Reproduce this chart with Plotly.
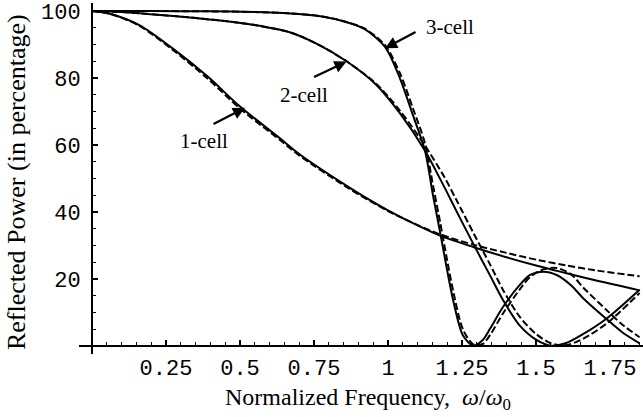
import plotly.graph_objects as go

# ---- data ----
x1 = [0, 0.06, 0.16, 0.27, 0.39, 0.5, 0.635, 0.7, 0.87, 1.0, 1.1, 1.18, 1.29, 1.4, 1.51, 1.6, 1.7, 1.85]
r1_solid = [100, 99.2, 95.8, 89, 80.5, 71.5, 62, 57.3, 47.3, 40.5, 36, 32.8, 29.5, 26.5, 23.8, 21.8, 19.6, 16.6]
r1_dash = [100, 99.2, 95.6, 88.6, 79.9, 70.9, 61.5, 56.9, 46.9, 40.3, 36.1, 33.2, 30.2, 27.8, 25.6, 24.1, 22.6, 20.8]

x2 = [0, 0.1, 0.22, 0.33, 0.45, 0.55, 0.67, 0.76, 0.86, 0.96, 1.04, 1.125, 1.19, 1.23, 1.29,
      1.345, 1.39, 1.446, 1.5, 1.55, 1.6, 1.66, 1.74, 1.85]
r2_solid = [100, 99.7, 98.9, 98.1, 97, 95.8, 93.6, 90.2, 85, 78, 69.5, 58.3, 47.5, 40.5, 30.2,
            21, 13.5, 6, 1.9, 0.1, 0.8, 3.6, 8.3, 16.8]
r2_dash = [100, 99.7, 98.9, 98.1, 97, 95.8, 93.6, 90.2, 85, 78.3, 70.3, 59.8, 50.5, 43.8, 33.5,
           24.3, 16.5, 8.6, 3.6, 0.8, 0.2, 2.2, 6.8, 15.8]

x3 = [0, 0.2, 0.4, 0.55, 0.67, 0.76, 0.84, 0.92, 0.99, 1.04, 1.084, 1.125, 1.152, 1.176, 1.2,
      1.22, 1.253, 1.288, 1.32, 1.345, 1.389, 1.446, 1.48, 1.525, 1.57, 1.62, 1.66, 1.739, 1.79, 1.85]
r3_solid = [100, 100, 99.9, 99.7, 99.3, 98.6, 97.2, 94.7, 89.3, 80, 69, 58.3, 45, 34, 22.5,
            13.7, 3.2, 0.1, 1.8, 5.2, 11.7, 18.3, 21.2, 22.2, 21.2, 18, 14.2, 8, 4.2, 0.8]
r3_dash = [100, 100, 99.9, 99.7, 99.3, 98.6, 97.2, 94.8, 89.8, 81.5, 71, 60.5, 48, 37, 25.5,
           16.5, 5, 0.5, 0.6, 3.3, 9.8, 17, 20.6, 22.9, 23.3, 21.3, 17.4, 10.7, 6.5, 2.6]

x_tickvals = [0.25, 0.5, 0.75, 1.0, 1.25, 1.5, 1.75]
x_ticktext = ["0.25", "0.5", "0.75", "1", "1.25", "1.5", "1.75"]
y_tickvals = [20, 40, 60, 80, 100]
y_ticktext = ["20", "40", "60", "80", "100"]

labels = ["1-cell", "2-cell", "3-cell"]
label_pos = [(0.378, 61.2), (0.716, 74.9), (1.209, 95.2)]
arrow_tip = [(0.517, 71.1), (0.86, 84.9), (0.99, 88.9)]
arrow_off = [(-33, 17), (-34, 16), (32, -17)]

# ---- figure ----
fig = go.Figure()
series = [(x1, r1_solid, r1_dash), (x2, r2_solid, r2_dash), (x3, r3_solid, r3_dash)]
for xs, ys, yd in series:
    fig.add_trace(go.Scatter(x=xs, y=ys, mode="lines",
                             line=dict(color="black", width=2, shape="spline", smoothing=0.8),
                             showlegend=False, hoverinfo="skip"))
    fig.add_trace(go.Scatter(x=xs, y=yd, mode="lines",
                             line=dict(color="black", width=2, dash="7px,3px", shape="spline", smoothing=0.8),
                             showlegend=False, hoverinfo="skip"))

xr = [-0.0439, 1.8615]
yr = [-2.39, 102.4]
tickfont = dict(family="Liberation Mono", size=22, color="black")
serif = "Liberation Serif"

fig.update_layout(
    width=643, height=417,
    margin=dict(l=79, r=0, t=3, b=63),
    paper_bgcolor="white", plot_bgcolor="white",
    xaxis=dict(range=xr, anchor="free", position=(0 - yr[0]) / (yr[1] - yr[0]),
               showline=True, linecolor="black", linewidth=2,
               ticks="inside", ticklen=5, tickwidth=1.5, tickcolor="black",
               tickmode="array", tickvals=x_tickvals, ticktext=x_ticktext,
               tickfont=tickfont, ticklabelstandoff=2,
               showgrid=False, zeroline=False,
               minor=dict(tickmode="linear", tick0=0, dtick=0.05, ticks="inside",
                          ticklen=3, tickwidth=1.2, tickcolor="black", showgrid=False)),
    yaxis=dict(range=yr, anchor="free", position=(0 - xr[0]) / (xr[1] - xr[0]),
               showline=True, linecolor="black", linewidth=2,
               ticks="inside", ticklen=5, tickwidth=1.5, tickcolor="black",
               tickmode="array", tickvals=y_tickvals, ticktext=y_ticktext,
               tickfont=tickfont, ticklabelstandoff=6,
               showgrid=False, zeroline=False,
               minor=dict(tickmode="linear", tick0=0, dtick=5, ticks="inside",
                          ticklen=3, tickwidth=1.2, tickcolor="black", showgrid=False)),
)

for lab, (lx, ly), (tx, ty), (ax, ay) in zip(labels, label_pos, arrow_tip, arrow_off):
    fig.add_annotation(x=lx, y=ly, text=lab, showarrow=False,
                       font=dict(family=serif, size=21, color="black"),
                       xanchor="center", yanchor="middle")
    fig.add_annotation(x=tx, y=ty, text="", showarrow=True, ax=ax, ay=ay,
                       arrowhead=2, arrowsize=1.1, arrowwidth=2.2, arrowcolor="black")

fig.add_annotation(xref="paper", yref="paper", x=0.512, y=-0.128,
                   text="Normalized Frequency,  <i>ω</i>/<i>ω</i><sub>0</sub>",
                   showarrow=False, xanchor="center", yanchor="middle",
                   font=dict(family=serif, size=24, color="black"))
fig.add_annotation(xref="paper", yref="paper", x=-0.1117, y=0.49,
                   text="Reflected Power (in percentage)", textangle=-90,
                   showarrow=False, xanchor="center", yanchor="middle",
                   font=dict(family=serif, size=26, color="black"))

fig.write_html("out.html")
